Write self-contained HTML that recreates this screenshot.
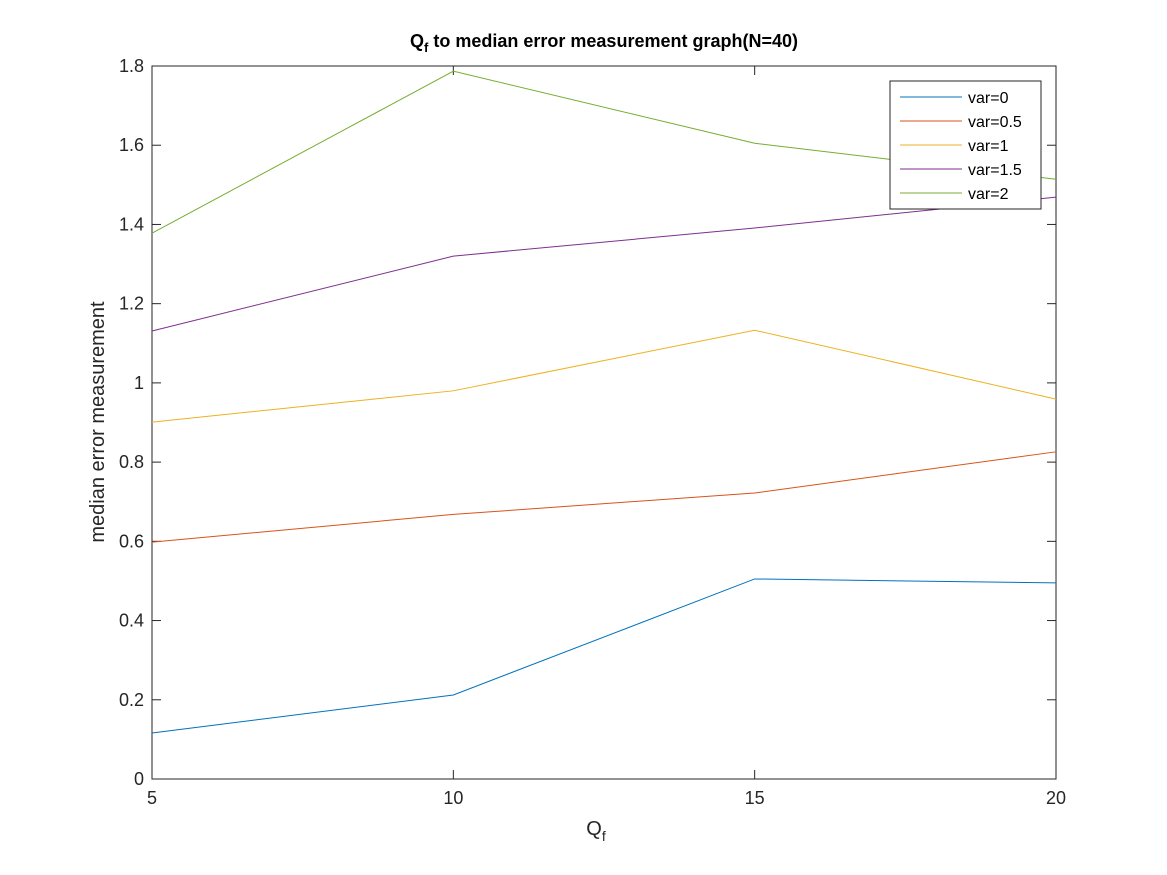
<!DOCTYPE html>
<html><head><meta charset="utf-8"><style>
body{margin:0;background:#fff;}
svg{display:block;font-family:"Liberation Sans",sans-serif;}
</style></head><body>
<svg id="chart" width="1167" height="875" viewBox="0 0 1167 875"></svg>
<script>
const categories=[5,10,15,20];
const seriesNames=["var=0","var=0.5","var=1","var=1.5","var=2"];
const var0=[0.116,0.212,0.505,0.495];
const var05=[0.598,0.668,0.722,0.826];
const var1=[0.901,0.980,1.133,0.959];
const var15=[1.131,1.320,1.391,1.469];
const var2=[1.378,1.787,1.605,1.514];
const xTicks=[5,10,15,20];
const yTicks=[0,0.2,0.4,0.6,0.8,1,1.2,1.4,1.6,1.8];
const yTickLabels=["0","0.2","0.4","0.6","0.8","1","1.2","1.4","1.6","1.8"];
const colors=["#0072BD","#D95319","#EDB120","#7E2F8E","#77AC30"];
const allSeries=[var0,var05,var1,var15,var2];
const L=152,R=1056,T=66,B=779;
const xs=v=>L+(v-5)/15*(R-L);
const ys=v=>B-v/1.8*(B-T);
const svg=document.getElementById('chart');
const NS="http://www.w3.org/2000/svg";
function mk(tag,attrs,txt){const e=document.createElementNS(NS,tag);for(const k in attrs)e.setAttribute(k,attrs[k]);if(txt!==undefined)e.textContent=txt;svg.appendChild(e);return e;}
let e=mk('rect',{x:L,y:T,width:R-L,height:B-T,fill:'#fff',stroke:'#262626','stroke-width':1});

xTicks.forEach(t=>{const x=xs(t);
 e=mk('line',{x1:x,x2:x,y1:B,y2:B-9,stroke:'#262626'});
 e=mk('line',{x1:x,x2:x,y1:T,y2:T+9,stroke:'#262626'});
 e=mk('text',{x:x,y:B+25,'text-anchor':'middle','font-size':18,fill:'#262626'},String(t));
});
yTicks.forEach((t,i)=>{const y=ys(t);
 e=mk('line',{x1:L,x2:L+9,y1:y,y2:y,stroke:'#262626'});
 e=mk('line',{x1:R,x2:R-9,y1:y,y2:y,stroke:'#262626'});
 e=mk('text',{x:L-8,y:y+6,'text-anchor':'end','font-size':18,fill:'#262626'},yTickLabels[i]);
});
allSeries.forEach((s,i)=>{
 e=mk('polyline',{points:s.map((v,j)=>xs(categories[j])+','+ys(v)).join(' '),fill:'none',stroke:colors[i],'stroke-width':1});
 
});
e=mk('rect',{x:890,y:81,width:151,height:128,fill:'#fff',stroke:'#262626','stroke-width':1});

seriesNames.forEach((n,i)=>{const y=97+i*24;
 e=mk('line',{x1:900,x2:962,y1:y,y2:y,stroke:colors[i]});
 e=mk('text',{x:968,y:y+6,'font-size':16,fill:'#000'},n);
});
e=mk('text',{x:604,y:47,'text-anchor':'middle','font-size':18,'font-weight':'bold',fill:'#000'});
e.innerHTML='Q<tspan font-size="13" dy="5">f</tspan><tspan dy="-5"> to median error measurement graph(N=40)</tspan>';

e=mk('text',{x:596,y:835,'text-anchor':'middle','font-size':20,fill:'#262626'});
e.innerHTML='Q<tspan font-size="14" dy="6">f</tspan>';

e=mk('text',{x:104,y:422,'text-anchor':'middle','font-size':20,fill:'#262626',transform:'rotate(-90 104 422)'},'median error measurement');

</script>
</body></html>
